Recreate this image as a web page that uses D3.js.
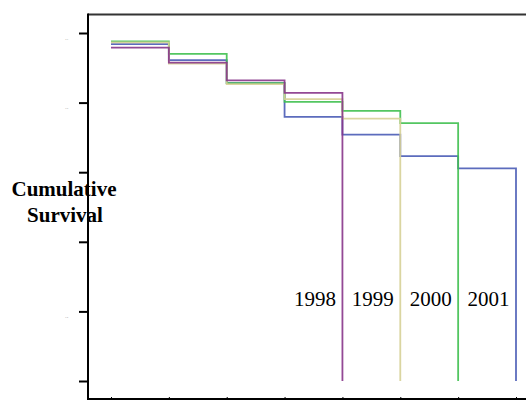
<!DOCTYPE html>
<html><head><meta charset="utf-8">
<script src="https://cdn.jsdelivr.net/npm/d3@7"></script>
<style>html,body{margin:0;padding:0;background:#fff;}svg{display:block;}</style>
</head><body>
<svg id="c" width="526" height="401"></svg>
<script>
// Data
const years = ["1998", "1999", "2000", "2001"];
const s1998 = [0.958, 0.915, 0.864, 0.828];
const s1999 = [0.973, 0.912, 0.853, 0.810, 0.754];
const s2000 = [0.976, 0.940, 0.856, 0.802, 0.776, 0.741];
const s2001 = [0.968, 0.922, 0.856, 0.759, 0.708, 0.646, 0.611];
const yTicks = [0, 0.2, 0.4, 0.6, 0.8, 1.0];
const yTickLabels = ["", "0.2", "", "", "0.8", "1.0"];
const xTicks = [0, 1, 2, 3, 4, 5, 6, 7];
const seriesColors = ["#87358a", "#d6d096", "#40c050", "#4a5cb6"];

const series = [s1998, s1999, s2000, s2001];
const svg = d3.select("#c");
const x = d3.scaleLinear().domain([0, 7]).range([111, 516]);
const y = d3.scaleLinear().domain([0, 1]).range([381, 33]);

// frame
svg.append("line").attr("x1", 88).attr("x2", 526).attr("y1", 14.5).attr("y2", 14.5)
  .attr("stroke", "#333").attr("stroke-width", 2);
svg.append("line").attr("x1", 88).attr("x2", 88).attr("y1", 13.5).attr("y2", 400)
  .attr("stroke", "#000").attr("stroke-width", 2);
svg.append("line").attr("x1", 87).attr("x2", 526).attr("y1", 399).attr("y2", 399)
  .attr("stroke", "#000").attr("stroke-width", 2);

// axes
const ya = svg.append("g").attr("transform", "translate(88,0)")
  .call(d3.axisLeft(y).tickValues(yTicks).tickSize(9).tickFormat((d, i) => yTickLabels[i]));
ya.select(".domain").remove();
ya.selectAll(".tick line").attr("stroke", "#000").attr("stroke-width", 2);
ya.selectAll(".tick text").attr("font-size", 2).attr("fill", "#999").attr("x", -20).attr("dy", 6);

const xa = svg.append("g").attr("transform", "translate(0,398)")
  .call(d3.axisBottom(x).tickValues(xTicks).tickSize(-1).tickFormat(""));
xa.select(".domain").remove();
xa.selectAll(".tick line").attr("stroke", "#000").attr("stroke-width", 1);

// step lines
const line = d3.line().x(d => x(d[0])).y(d => y(d[1])).curve(d3.curveStepAfter);
const order = [3, 2, 1, 0];
order.forEach(k => {
  const vals = series[k];
  const pts = vals.map((v, i) => [i, v]);
  pts.push([vals.length, vals[vals.length - 1]]);
  pts.push([vals.length, 0]);
  svg.append("path").attr("d", line(pts)).attr("fill", "none")
    .attr("stroke", seriesColors[k]).attr("stroke-width", 1.8).attr("stroke-opacity", 0.9);
});

// year labels
years.forEach((yr, k) => {
  svg.append("text").attr("x", x(series[k].length - 0.5) + 1.5).attr("y", 306)
    .attr("text-anchor", "middle").attr("font-family", "'Liberation Serif', 'Times New Roman', serif")
    .attr("font-size", 21).attr("fill", "#000").text(yr);
});

// y title
const t = svg.append("text").attr("text-anchor", "middle")
  .attr("font-family", "'Liberation Serif', 'Times New Roman', serif")
  .attr("font-weight", "bold").attr("font-size", 21).attr("fill", "#000");
t.append("tspan").attr("x", 64).attr("y", 196).text("Cumulative");
t.append("tspan").attr("x", 65).attr("y", 222).text("Survival");
</script>
</body></html>
